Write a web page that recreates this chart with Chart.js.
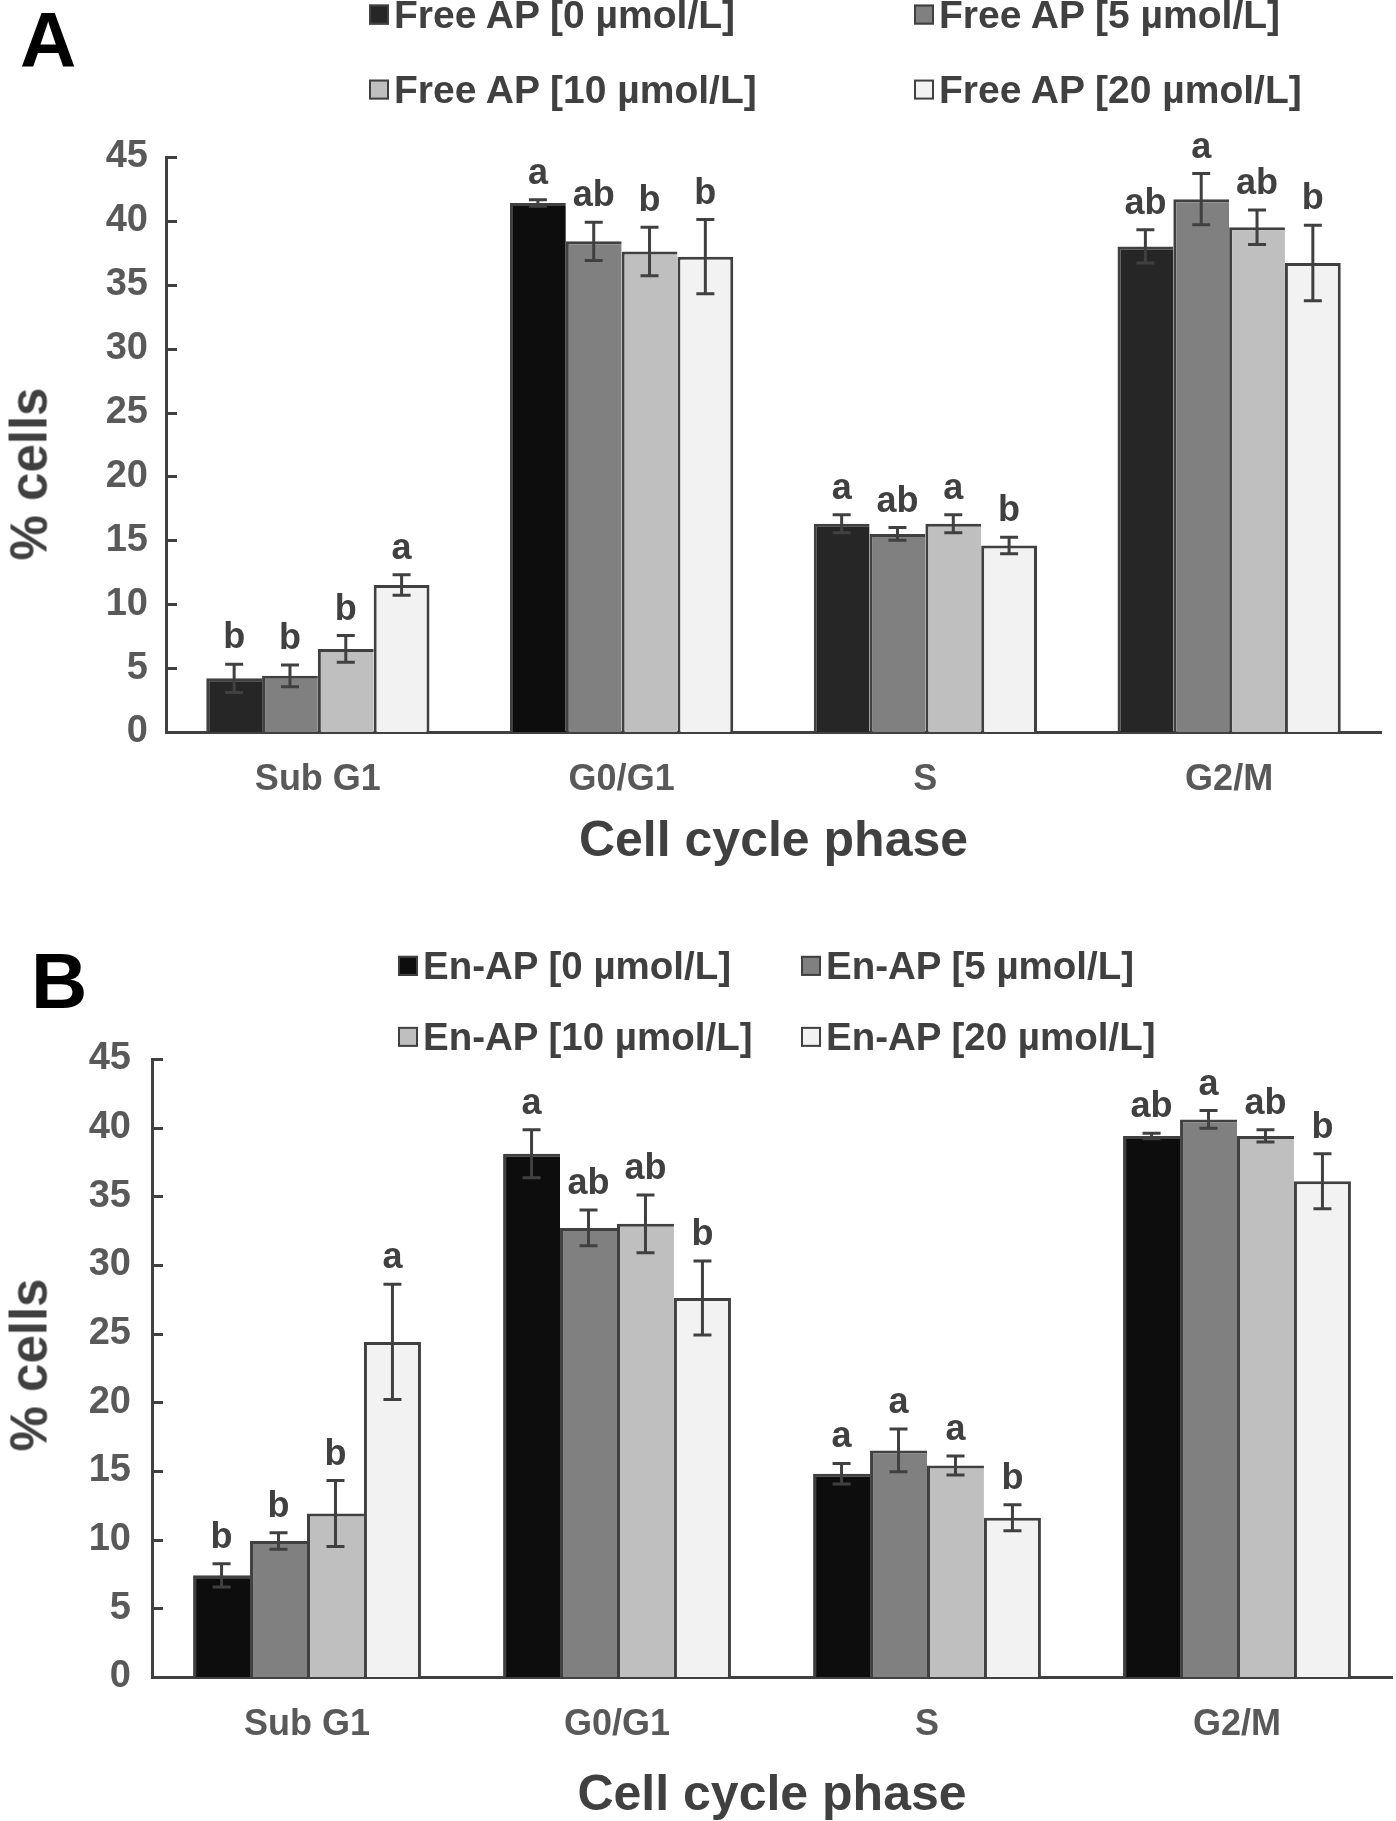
<!DOCTYPE html>
<html>
<head>
<meta charset="utf-8">
<script src="https://cdn.jsdelivr.net/npm/chart.js@4.4.1/dist/chart.umd.min.js"></script>
<style>
  body { margin: 0; background: #fff; font-family: "Liberation Sans", Arial, sans-serif; }
  #page { position: relative; width: 1396px; height: 1821px; overflow: hidden; }
  canvas { position: absolute; left: 0; }
  .tag { position: absolute; font-weight: bold; font-size: 78px; line-height: 1; color: #000; }
  .legend-item { position: absolute; display: flex; align-items: center; transform: translateY(-50%);
    font-weight: bold; color: #404040; white-space: nowrap; line-height: 1.15; }
  .legend-item .box { width: 16px; height: 16px; border: 2px solid #404040; margin-right: 5px; }
  .ytitle { position: absolute; font-weight: bold; font-size: 51px; color: #404040; white-space: nowrap;
    transform: translate(-50%, -50%) rotate(-90deg); }
</style>
</head>
<body>
<div id="page">
  <canvas id="chart-a" width="1396" height="900" style="top:0"></canvas>
  <canvas id="chart-b" width="1396" height="921" style="top:900px"></canvas>
</div>
<script>
// categories and axis
const phases = ["Sub G1", "G0/G1", "S", "G2/M"];
const yRange = [0, 45];
const yStep = 5;

// panel A - free AP
const freeLabels = ["Free AP [0 µmol/L]", "Free AP [5 µmol/L]", "Free AP [10 µmol/L]", "Free AP [20 µmol/L]"];
const freeAp0 = [4.2, 41.4, 16.3, 38.0];
const freeAp5 = [4.4, 38.4, 15.5, 41.7];
const freeAp10 = [6.5, 37.6, 16.3, 39.5];
const freeAp20 = [11.5, 37.2, 14.6, 36.7];
const freeAp0Err = [1.1, 0.25, 0.7, 1.3];
const freeAp5Err = [0.85, 1.5, 0.5, 2.0];
const freeAp10Err = [1.05, 1.9, 0.7, 1.35];
const freeAp20Err = [0.8, 2.9, 0.65, 2.95];
const freeAp0Sig = ["b", "a", "a", "ab"];
const freeAp5Sig = ["b", "ab", "ab", "a"];
const freeAp10Sig = ["b", "b", "a", "ab"];
const freeAp20Sig = ["a", "b", "b", "b"];

// panel B - En-AP
const enLabels = ["En-AP [0 µmol/L]", "En-AP [5 µmol/L]", "En-AP [10 µmol/L]", "En-AP [20 µmol/L]"];
const enAp0 = [7.4, 38.1, 14.8, 39.4];
const enAp5 = [9.9, 32.7, 16.5, 40.6];
const enAp10 = [11.9, 33.0, 15.4, 39.4];
const enAp20 = [24.4, 27.6, 11.6, 36.1];
const enAp0Err = [0.85, 1.75, 0.75, 0.2];
const enAp5Err = [0.6, 1.3, 1.55, 0.65];
const enAp10Err = [2.4, 2.1, 0.7, 0.45];
const enAp20Err = [4.2, 2.7, 0.95, 2.0];
const enAp0Sig = ["b", "a", "a", "ab"];
const enAp5Sig = ["b", "ab", "a", "a"];
const enAp10Sig = ["b", "ab", "a", "ab"];
const enAp20Sig = ["a", "b", "b", "b"];

const FONT = "'Liberation Sans', Arial, sans-serif";
const INK = "#404040";
Chart.defaults.font.family = FONT;

// error bars, significance letters and inward y ticks
const errorBars = {
  id: "errorBars",
  afterDraw(chart) {
    const { ctx, chartArea } = chart;
    const y = chart.scales.y;
    ctx.save();
    ctx.strokeStyle = INK;
    ctx.fillStyle = INK;
    ctx.lineWidth = 3;
    ctx.font = "bold 36px " + FONT;
    ctx.textAlign = "center";
    ctx.textBaseline = "alphabetic";
    chart.data.datasets.forEach((ds, i) => {
      chart.getDatasetMeta(i).data.forEach((bar, j) => {
        const top = y.getPixelForValue(ds.data[j] + ds.errors[j]);
        const bottom = y.getPixelForValue(ds.data[j] - ds.errors[j]);
        ctx.beginPath();
        ctx.moveTo(bar.x, top);
        ctx.lineTo(bar.x, bottom);
        ctx.moveTo(bar.x - 9, top);
        ctx.lineTo(bar.x + 9, top);
        ctx.moveTo(bar.x - 9, bottom);
        ctx.lineTo(bar.x + 9, bottom);
        ctx.stroke();
        ctx.fillText(ds.letters[j], bar.x, top - 16);
      });
    });
    y.ticks.forEach((t, k) => {
      const py = Math.round(y.getPixelForTick(k)) + 0.5;
      ctx.beginPath();
      ctx.moveTo(chartArea.left, py);
      ctx.lineTo(chartArea.left + 11, py);
      ctx.stroke();
    });
    ctx.restore();
  },
};

function makePanel(p) {
  const page = document.getElementById("page");

  const tag = document.createElement("div");
  tag.className = "tag";
  tag.textContent = p.tag;
  tag.style.left = p.tagPos[0] + "px";
  tag.style.top = p.tagPos[1] + "px";
  page.appendChild(tag);

  p.labels.forEach((label, i) => {
    const item = document.createElement("div");
    item.className = "legend-item";
    item.style.left = p.legendCols[i % 2] + "px";
    item.style.top = p.legendRows[Math.floor(i / 2)] + "px";
    item.style.fontSize = p.legendFont + "px";
    const c = Array.isArray(p.fills[i]) ? p.fills[i][0] : p.fills[i];
    item.innerHTML = `<span class="box" style="background:${c}"></span><span>${label}</span>`;
    page.appendChild(item);
  });

  const yt = document.createElement("div");
  yt.className = "ytitle";
  yt.textContent = "% cells";
  yt.style.left = p.yTitlePos[0] + "px";
  yt.style.top = p.yTitlePos[1] + "px";
  page.appendChild(yt);

  const datasets = p.series.map((data, i) => ({
    label: p.labels[i],
    data: data,
    errors: p.errors[i],
    letters: p.letters[i],
    backgroundColor: p.fills[i],
    borderColor: INK,
    borderWidth: { left: 3, top: 3, right: i === p.series.length - 1 ? 3 : 0, bottom: 0 },
    categoryPercentage: 0.735,
    barPercentage: 1.0,
  }));

  return new Chart(document.getElementById(p.canvas), {
    type: "bar",
    data: { labels: phases, datasets: datasets },
    options: {
      responsive: false,
      animation: false,
      layout: { padding: { top: p.plotTop, right: p.padRight, left: 0, bottom: 0 } },
      plugins: { legend: { display: false }, tooltip: { enabled: false } },
      scales: {
        x: {
          grid: { display: false, drawTicks: false },
          border: { display: true, color: INK, width: 3 },
          ticks: { color: "#595959", font: { size: 36, weight: "bold" }, padding: 26 },
          title: {
            display: true,
            text: "Cell cycle phase",
            color: INK,
            font: { size: 50, weight: "bold", lineHeight: 1.0 },
            padding: { top: 0, bottom: p.xTitlePad },
          },
          afterFit: (scale) => { scale.height = p.xAxisHeight; },
        },
        y: {
          min: yRange[0],
          max: yRange[1],
          grid: { display: false, drawTicks: false },
          border: { display: true, color: INK, width: 3 },
          ticks: { stepSize: yStep, color: "#595959", font: { size: 38, weight: "bold" }, padding: p.yTickPad },
          afterFit: (scale) => { scale.width = p.yAxisWidth; },
        },
      },
    },
    plugins: [errorBars],
  });
}

makePanel({
  canvas: "chart-a",
  tag: "A",
  tagPos: [20, 1],
  labels: freeLabels,
  legendCols: [369, 914],
  legendRows: [15, 90],
  legendFont: 39,
  yTitlePos: [29, 474],
  series: [freeAp0, freeAp5, freeAp10, freeAp20],
  errors: [freeAp0Err, freeAp5Err, freeAp10Err, freeAp20Err],
  letters: [freeAp0Sig, freeAp5Sig, freeAp10Sig, freeAp20Sig],
  fills: [["#262626", "#0d0d0d", "#262626", "#262626"], "#808080", "#bfbfbf", "#f2f2f2"],
  plotTop: 157,
  padRight: 15,
  xAxisHeight: 168,
  xTitlePad: 33,
  yAxisWidth: 166,
  yTickPad: 18,
});

makePanel({
  canvas: "chart-b",
  tag: "B",
  tagPos: [31, 942],
  labels: enLabels,
  legendCols: [398, 801],
  legendRows: [966, 1037],
  legendFont: 38.5,
  yTitlePos: [29, 1365],
  series: [enAp0, enAp5, enAp10, enAp20],
  errors: [enAp0Err, enAp5Err, enAp10Err, enAp20Err],
  letters: [enAp0Sig, enAp5Sig, enAp10Sig, enAp20Sig],
  fills: ["#0d0d0d", "#808080", "#bfbfbf", "#f2f2f2"],
  plotTop: 159,
  padRight: 4,
  xAxisHeight: 144,
  xTitlePad: 0,
  yAxisWidth: 152,
  yTickPad: 21,
});
</script>
</body>
</html>
